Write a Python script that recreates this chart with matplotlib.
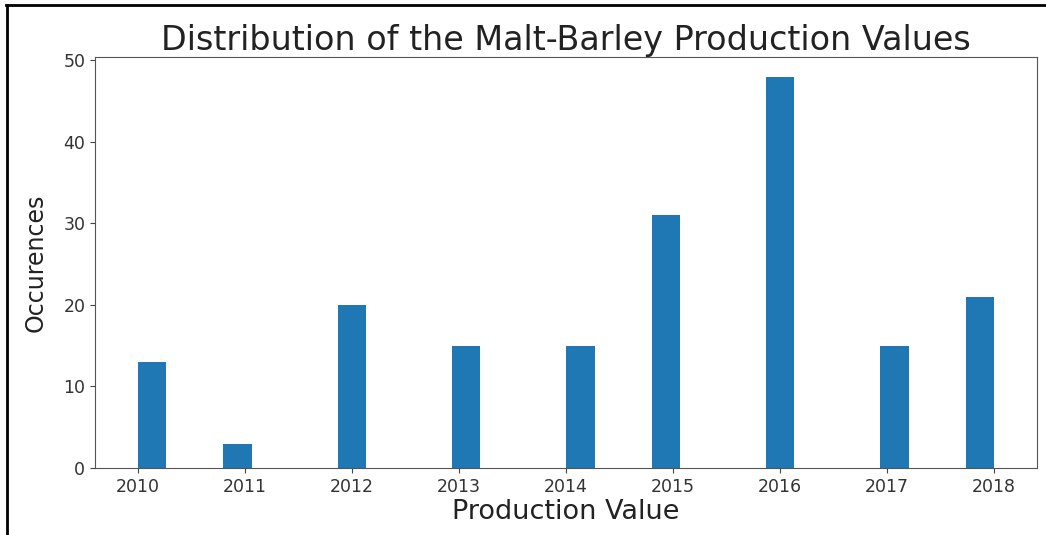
import numpy as np
import matplotlib
matplotlib.use("Agg")
import matplotlib.pyplot as plt
from matplotlib.lines import Line2D

# production years and how many times each occurs
years = [2010, 2011, 2012, 2013, 2014, 2015, 2016, 2017, 2018]
counts = [13, 3, 20, 15, 15, 31, 48, 15, 21]

title = "Distribution of the Malt-Barley Production Values"
xlabel = "Production Value"
ylabel = "Occurences"

fig = plt.figure(figsize=(10.46, 5.35), dpi=100)
ax = fig.add_axes([0.0908, 0.1252, 0.9006, 0.7683])

# histogram with 30 bins over the year range
ax.hist(years, bins=30, weights=counts, color="#1f77b4")

ax.set_title(title, fontsize=24, color="#222222", pad=5)
ax.set_xlabel(xlabel, fontsize=19.5, color="#222222", labelpad=2)
ax.set_ylabel(ylabel, fontsize=17, color="#222222")
ax.yaxis.set_label_coords(-0.05, 0.5)
ax.tick_params(labelsize=12.5, colors="#444444", labelcolor="#333333")
for s in ax.spines.values():
    s.set_color("#555555")

# screenshot frame on left and top
fig.add_artist(Line2D([0.007, 0.007], [0.0, 0.99], transform=fig.transFigure,
                      color="black", lw=2))
fig.add_artist(Line2D([0.006, 1.0], [0.99, 0.99], transform=fig.transFigure,
                      color="black", lw=2))

fig.savefig("out.png", dpi=100)
